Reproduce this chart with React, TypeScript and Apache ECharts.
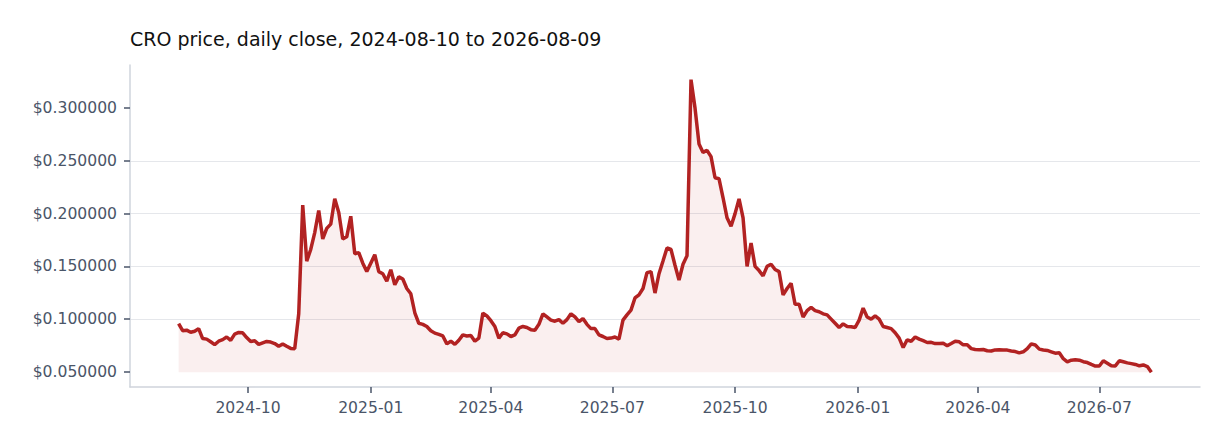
import React, { useEffect, useRef } from 'react';
import * as echarts from 'echarts';

// daily close, sampled every 3 days from the start date
const START_DATE = '2024-08-10';
const STEP_DAYS = 3;

const closes = [
  0.0956, 0.089, 0.0895, 0.0875, 0.0885, 0.091, 0.0815, 0.081, 0.0785, 0.0758,
  0.079, 0.0805, 0.083, 0.0798, 0.0858, 0.0873, 0.087, 0.0825, 0.0788, 0.0795,
  0.076, 0.0775, 0.0788, 0.0782, 0.0768, 0.0742, 0.0765, 0.0742, 0.0722, 0.072,
  0.105, 0.208, 0.155, 0.166, 0.182, 0.203, 0.176, 0.186, 0.19, 0.214,
  0.201, 0.176, 0.178, 0.1975, 0.162, 0.163, 0.153, 0.145, 0.153, 0.161,
  0.145, 0.143, 0.136, 0.1468, 0.1326, 0.14, 0.138, 0.129, 0.124, 0.106,
  0.096, 0.095, 0.093, 0.089, 0.0867, 0.0855, 0.084, 0.0765, 0.079, 0.076,
  0.08, 0.085, 0.084, 0.0845, 0.079, 0.082, 0.1057, 0.103, 0.0985, 0.093,
  0.082, 0.087, 0.086, 0.0835, 0.085, 0.0915, 0.093, 0.092, 0.09, 0.0895,
  0.095, 0.105, 0.102, 0.099, 0.098, 0.0995, 0.096, 0.0995, 0.105, 0.102,
  0.0975, 0.1005, 0.095, 0.091, 0.091, 0.085, 0.0835, 0.0816, 0.082, 0.083,
  0.081, 0.099, 0.104, 0.1085, 0.12, 0.123, 0.129, 0.144, 0.145, 0.1247,
  0.143, 0.155, 0.1675, 0.166, 0.151, 0.137, 0.152, 0.16, 0.327, 0.3,
  0.266, 0.258, 0.26, 0.254, 0.234, 0.233, 0.215, 0.196, 0.188, 0.2,
  0.214, 0.196, 0.15, 0.172, 0.15, 0.146, 0.141, 0.15, 0.152, 0.147,
  0.145, 0.123, 0.129, 0.134, 0.114, 0.114, 0.102, 0.108, 0.111, 0.108,
  0.107, 0.105, 0.104, 0.1, 0.096, 0.092, 0.0955, 0.093, 0.0928, 0.092,
  0.099, 0.1104, 0.102, 0.1, 0.103, 0.1, 0.093, 0.092, 0.091, 0.087,
  0.082, 0.073, 0.0804, 0.079, 0.083, 0.081, 0.0795, 0.0778, 0.078, 0.0768,
  0.0768, 0.077, 0.0747, 0.0768, 0.079, 0.0785, 0.0756, 0.0756, 0.072, 0.0712,
  0.071, 0.0712, 0.07, 0.0697, 0.0708, 0.071, 0.0708, 0.0706, 0.0698, 0.0692,
  0.068, 0.069, 0.072, 0.0765, 0.0755, 0.0715, 0.0707, 0.0703, 0.069, 0.0677,
  0.068, 0.0625, 0.0595, 0.061, 0.0615, 0.061, 0.0596, 0.0588, 0.057, 0.0555,
  0.0555, 0.0605, 0.0582, 0.0558, 0.0556, 0.0605, 0.0595, 0.0585, 0.0578, 0.057,
  0.0557, 0.0565, 0.055, 0.0495,
];

const xTickLabels = ['2024-10', '2025-01', '2025-04', '2025-07', '2025-10', '2026-01', '2026-04', '2026-07'];
const yTicks = [0.05, 0.1, 0.15, 0.2, 0.25, 0.3];

const DAY = 86400000;
const FONT = 'DejaVu Sans';

const App: React.FC = () => {
  const chartRef = useRef<HTMLDivElement>(null);

  useEffect(() => {
    if (!chartRef.current) return;
    const chart = echarts.init(chartRef.current, null, { renderer: 'svg' });

    const t0 = Date.parse(START_DATE + 'T00:00:00Z');
    const data = closes.map((v, i) => [t0 + i * STEP_DAYS * DAY, v]);
    const tEnd = t0 + (closes.length - 1) * STEP_DAYS * DAY;
    const tPad = (tEnd - t0) * 0.05;
    const lo = Math.min(...closes);
    const hi = Math.max(...closes);
    const vPad = (hi - lo) * 0.05;
    const xTicks = xTickLabels.map((s) => Date.parse(s + '-01T00:00:00Z'));

    const option = {
      animation: false,
      title: {
        text: 'CRO price, daily close, 2024-08-10 to 2026-08-09',
        left: 130,
        top: 29,
        padding: 0,
        textStyle: { fontFamily: FONT, fontSize: 19, fontWeight: 'normal', color: '#111111' },
      },
      grid: { left: 130, right: 32, top: 65, bottom: 61 },
      xAxis: {
        type: 'value',
        min: t0 - tPad,
        max: tEnd + tPad,
        axisLine: { lineStyle: { color: '#cfd4dc', width: 1.5 } },
        axisTick: { show: true, length: 6, customValues: xTicks, lineStyle: { color: '#4a5568', width: 1.5 } },
        axisLabel: {
          customValues: xTicks,
          margin: 13,
          fontFamily: FONT,
          fontSize: 15.6,
          color: '#4a5568',
          formatter: (val: number) => {
            const d = new Date(val);
            return d.getUTCFullYear() + '-' + String(d.getUTCMonth() + 1).padStart(2, '0');
          },
        },
        splitLine: { show: false },
      },
      yAxis: {
        type: 'value',
        min: lo - vPad,
        max: hi + vPad,
        axisLine: { show: true, lineStyle: { color: '#cfd4dc', width: 1.5 } },
        axisTick: { show: true, length: 6, customValues: yTicks, lineStyle: { color: '#4a5568', width: 1.5 } },
        axisLabel: {
          customValues: yTicks,
          margin: 13,
          fontFamily: FONT,
          fontSize: 15.6,
          color: '#4a5568',
          formatter: (v: number) => '$' + v.toFixed(6),
        },
        splitLine: { show: true, showMinLine: false, showMaxLine: false, lineStyle: { color: '#e5e7eb', width: 1.2 } },
      },
      series: [
        {
          name: 'CRO',
          type: 'line',
          data,
          symbol: 'none',
          lineStyle: { color: '#b22222', width: 3.5 },
          itemStyle: { color: '#b22222' },
          areaStyle: { color: 'rgba(178,34,34,0.1)', origin: lo },
        },
      ],
    };

    chart.setOption(option);

    return () => {
      chart.dispose();
    };
  }, []);

  return <div ref={chartRef} style={{ position: 'absolute', left: 0, top: 0, width: 1232, height: 448 }} />;
};

export default App;
